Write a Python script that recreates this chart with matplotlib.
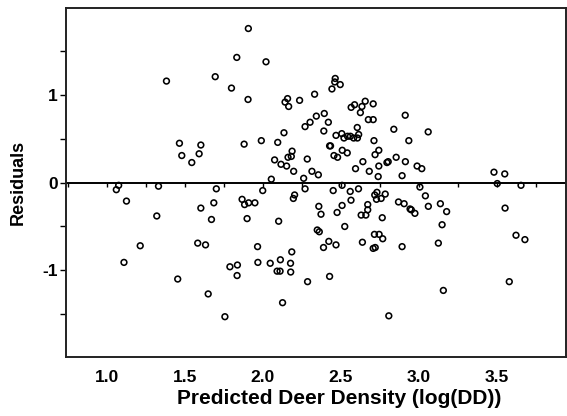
import matplotlib
matplotlib.use("Agg")
import matplotlib.pyplot as plt
import numpy as np

# Predicted deer density (log(DD)) and residuals
pred = [
    1.907, 1.833, 2.020, 1.383, 1.695, 1.799, 1.905, 2.158, 2.142, 2.165,
    2.235, 2.270, 2.302, 1.466, 1.481, 1.545, 1.592, 1.603, 1.880, 1.990,
    2.095, 2.135, 2.187, 2.161, 2.182, 2.075, 2.116, 2.152, 2.197, 2.284,
    2.054, 2.261, 2.314, 2.355, 2.331, 2.442, 2.463, 2.460, 2.495, 2.342,
    2.393, 2.419, 2.390, 2.468, 2.427, 2.433, 2.455, 2.478, 2.565, 2.587,
    2.634, 2.655, 2.706, 2.624, 2.675, 2.706, 2.911, 2.838, 3.058, 2.934,
    2.505, 2.519, 2.542, 2.560, 2.581, 2.605, 2.613, 2.604, 2.711, 2.508,
    2.540, 2.742, 2.718, 2.640, 2.593, 2.681, 2.742, 2.738, 2.794, 2.802,
    2.853, 2.912, 2.891, 2.987, 3.017, 3.479, 3.548, 3.500,
    3.652, 1.077, 1.062, 1.332, 1.702, 1.999, 2.270, 2.203, 2.195, 1.127,
    1.321, 1.603, 1.686, 1.671, 1.867, 1.883, 1.909, 1.949, 1.899, 2.101,
    1.215, 1.583, 1.633, 1.966, 2.185, 1.111, 1.789, 1.837, 1.835, 1.968,
    2.047, 2.112, 2.177, 2.091, 2.110, 2.178, 1.455, 1.650, 1.757, 2.126,
    2.286, 2.427, 2.358, 2.372, 2.450, 2.507, 2.559, 2.612, 2.730, 2.716,
    2.727, 2.783, 2.757, 2.564, 2.507, 2.475, 2.524, 2.348, 2.361, 2.422,
    2.388, 2.468, 2.637, 2.671, 2.671, 2.629, 2.659, 2.764, 2.714, 2.744,
    2.767, 2.706, 2.719, 2.891, 2.868, 2.904, 2.942, 2.950, 2.973, 3.005,
    3.040, 3.059, 3.136, 3.176, 3.147, 3.123, 3.155, 2.806, 3.550, 3.620,
    3.677, 3.577,
]
resid = [
    1.76, 1.43, 1.38, 1.16, 1.21, 1.08, 0.95, 0.96, 0.92, 0.87,
    0.94, 0.64, 0.69, 0.45, 0.31, 0.23, 0.33, 0.43, 0.44, 0.48,
    0.46, 0.57, 0.36, 0.29, 0.30, 0.26, 0.21, 0.19, 0.13, 0.27,
    0.04, 0.05, 0.13, 0.09, 1.01, 1.07, 1.19, 1.15, 1.12, 0.76,
    0.79, 0.69, 0.59, 0.54, 0.42, 0.42, 0.31, 0.29, 0.86, 0.89,
    0.87, 0.93, 0.90, 0.80, 0.72, 0.72, 0.77, 0.61, 0.58, 0.48,
    0.56, 0.51, 0.53, 0.53, 0.51, 0.51, 0.55, 0.63, 0.48, 0.37,
    0.34, 0.37, 0.32, 0.24, 0.16, 0.13, 0.19, 0.07, 0.23, 0.24,
    0.29, 0.24, 0.08, 0.19, 0.16, 0.12, 0.10, -0.01,
    -0.03, -0.03, -0.08, -0.04, -0.07, -0.09, -0.07, -0.14, -0.18, -0.21,
    -0.38, -0.29, -0.23, -0.42, -0.19, -0.25, -0.23, -0.23, -0.41, -0.44,
    -0.72, -0.69, -0.71, -0.73, -0.79, -0.91, -0.96, -0.94, -1.06, -0.91,
    -0.92, -0.88, -0.92, -1.01, -1.01, -1.02, -1.10, -1.27, -1.53, -1.37,
    -1.13, -1.07, -0.27, -0.36, -0.09, -0.03, -0.10, -0.07, -0.11, -0.14,
    -0.19, -0.13, -0.18, -0.20, -0.26, -0.34, -0.50, -0.54, -0.56, -0.67,
    -0.74, -0.71, -0.68, -0.25, -0.31, -0.37, -0.37, -0.40, -0.59, -0.59,
    -0.64, -0.75, -0.74, -0.73, -0.22, -0.24, -0.30, -0.31, -0.35, -0.05,
    -0.15, -0.27, -0.24, -0.33, -0.48, -0.69, -1.23, -1.52, -0.29, -0.60,
    -0.65, -1.13,
]

x_ticks = [1.0, 1.5, 2.0, 2.5, 3.0, 3.5]
x_ticklabels = ["1.0", "1.5", "2.0", "2.5", "3.0", "3.5"]
zero_line_ticks = [0.75, 1.0, 1.25, 1.5, 1.75, 2.0, 2.25, 2.5, 2.75, 3.0, 3.25, 3.5, 3.75]
y_ticks = [-1, 0, 1]
y_ticklabels = ["-1", "0", "1"]
y_minor_ticks = [-1.5, -0.5, 0.5, 1.5]

plt.rcParams['font.family'] = ['Liberation Sans', 'DejaVu Sans']
plt.rcParams['font.weight'] = 'bold'

fig = plt.figure(figsize=(5.67, 4.16), dpi=100)
ax = fig.add_axes([66/567, 1 - 357/416, 500/567, (357 - 7.5)/416])

xmin, xmax = 0.74, 3.94
ymin, ymax = -1.99, 2.0
ax.set_xlim(xmin, xmax)
ax.set_ylim(ymin, ymax)

ax.scatter(pred, resid, s=17, facecolors='none', edgecolors='black',
           linewidths=1.15, zorder=3)

ax.axhline(0, color='black', lw=1.4, zorder=2)

for sp in ax.spines.values():
    sp.set_linewidth(1.4)
    sp.set_color('#222222')

ax.set_xticks(x_ticks)
ax.set_xticklabels(x_ticklabels, fontsize=12.5, fontweight='bold')
ax.tick_params(axis='x', length=0, pad=9)

ax.set_yticks(y_ticks)
ax.set_yticklabels(y_ticklabels, fontsize=12.5, fontweight='bold')
ax.set_yticks(y_minor_ticks, minor=True)
ax.tick_params(axis='y', which='both', direction='out', length=4, width=1.0, pad=2)

# ticks on the zero reference line
frac = (0 - ymin) / (ymax - ymin)
sec = ax.secondary_xaxis(frac)
sec.set_xticks(zero_line_ticks)
sec.set_xticklabels([])
sec.tick_params(axis='x', direction='out', length=3, width=1.0)
for sp in sec.spines.values():
    sp.set_visible(False)

ax.set_xlabel("Predicted Deer Density (log(DD))", fontsize=15, fontweight='bold',
              labelpad=3, x=0.546)
ax.set_ylabel("Residuals", fontsize=13, fontweight='bold', labelpad=11)

fig.savefig("out.png", dpi=100)
